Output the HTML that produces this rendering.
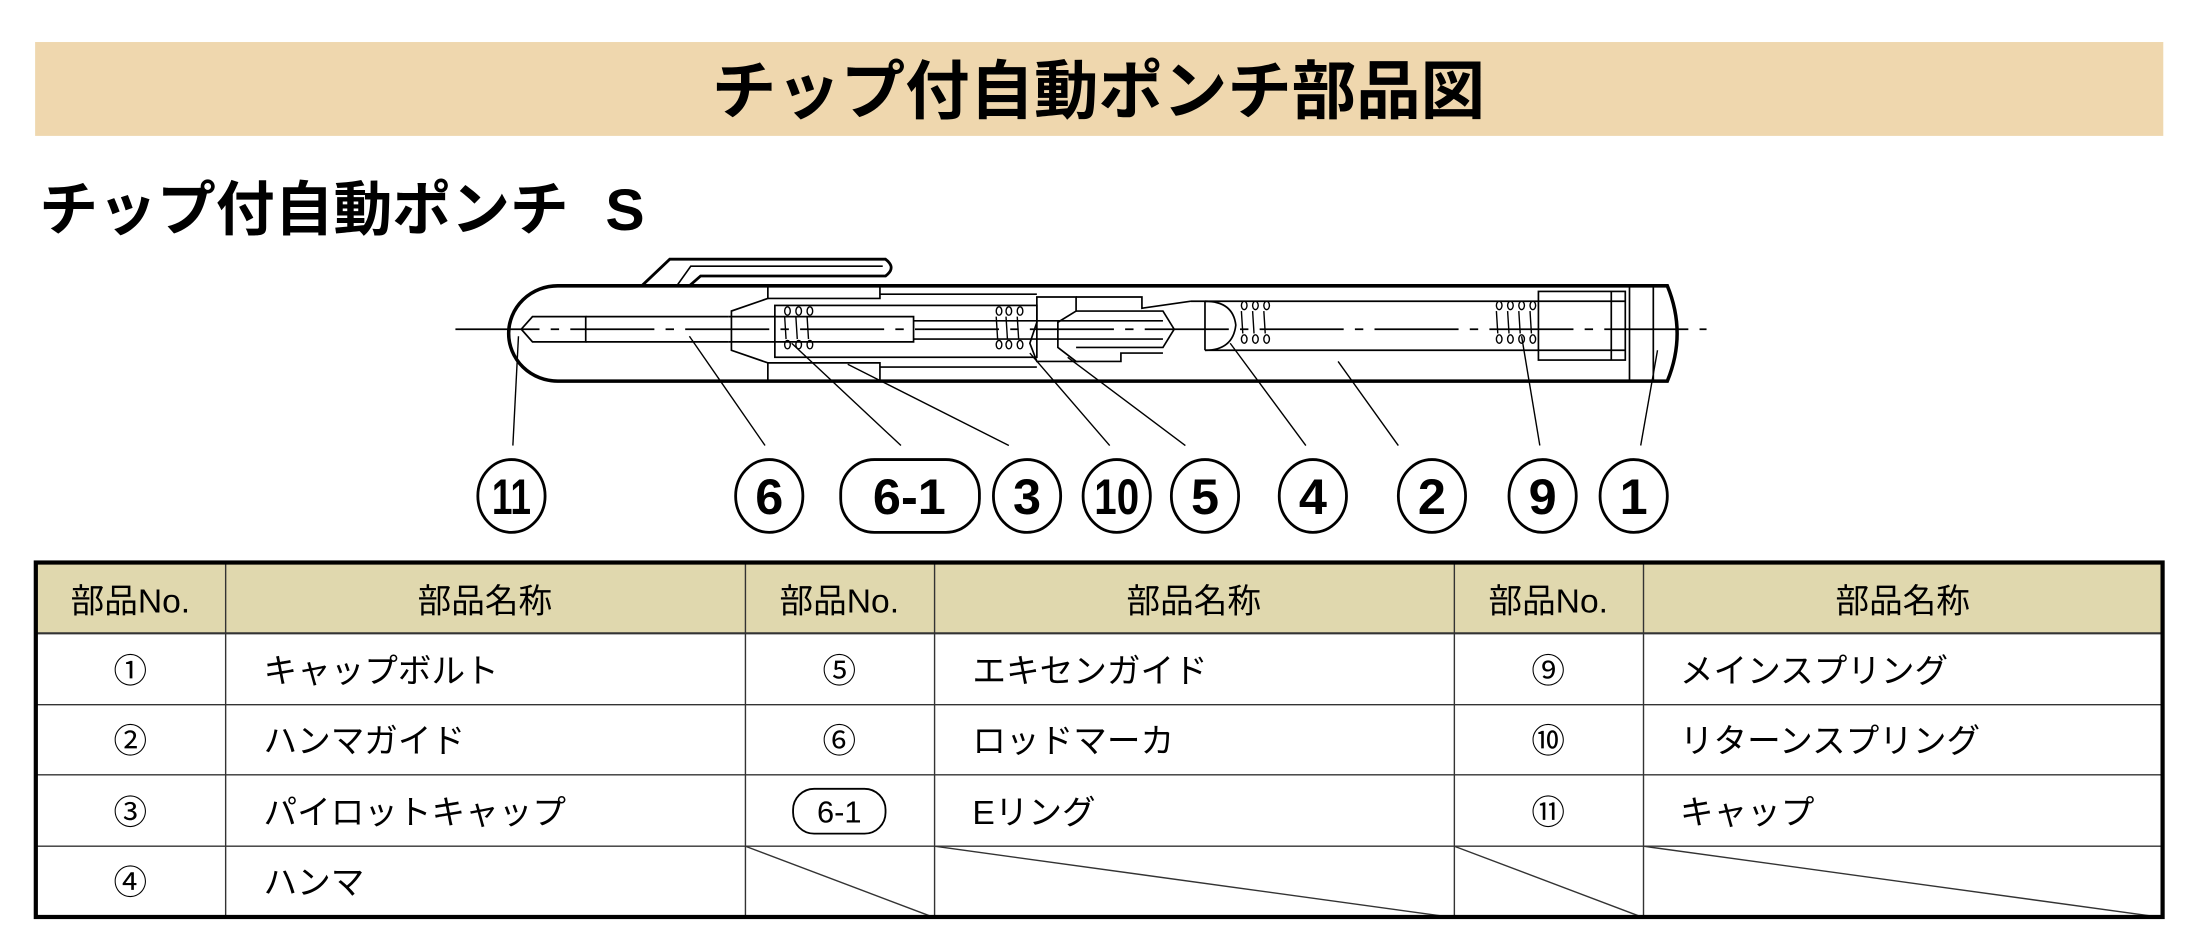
<!DOCTYPE html>
<html><head><meta charset="utf-8"><style>
html,body{margin:0;padding:0;background:#fff;}
svg{display:block;}
text{font-family:"Liberation Sans","Noto Sans CJK JP",sans-serif;}
</style></head><body>
<svg width="2197" height="945" viewBox="0 0 1568 674.5" xmlns="http://www.w3.org/2000/svg">
<defs>
<g id="sp" fill="none" stroke="#000" stroke-width="1"><ellipse cx="0" cy="0" rx="2" ry="3"/><ellipse cx="0" cy="24" rx="2" ry="3"/><line x1="-2" y1="4" x2="-1" y2="20"/></g>
</defs>
<rect x="25" y="30" width="1519" height="67" fill="#efd7ae"/>
<text x="784" y="81" font-size="46" font-weight="bold" text-anchor="middle" font-family="Noto Sans CJK JP, sans-serif">チップ付自動ポンチ部品図</text>
<text x="28" y="164" font-size="42" font-weight="bold" font-family="Noto Sans CJK JP, sans-serif">チップ付自動ポンチ</text>
<text x="432" y="164" font-size="42" font-weight="bold">S</text>

<g fill="none" stroke="#000" stroke-width="1.2">
<path d="M458 204 L478 185 L632 185 Q640 191 632 197 L500 197 L492 204" stroke-width="2" fill="#fff"/>
<path d="M483 204 L493 190 L630 190"/>
<path d="M398 204 L1190 204 Q1204 238 1190 272 L398 272 A35 34 0 0 1 398 204 Z" stroke-width="2.5" fill="#fff"/>
<line x1="1163" y1="204" x2="1163" y2="272"/>
<line x1="1180" y1="204" x2="1180" y2="272"/>
<line x1="325" y1="235" x2="1218" y2="235" stroke-dasharray="60 8 6 8"/>
<path d="M372 235 L380 226 L418 226 L418 244 L380 244 Z"/>
<path d="M418 226 L520 226 M418 244 L520 244"/>
<path d="M548 204 L548 213 L522 222 L522 250 L548 259 L548 272"/>
<path d="M548 213 L628 213 L628 204 M548 259 L628 259 L628 272"/>
<rect x="553" y="218" width="187" height="37"/>
<path d="M520 226 L652 226 L652 244 L520 244"/>
<path d="M652 229 L830 229 M652 242 L830 242"/>
<path d="M628 210 L740 210 M628 262 L740 262"/>
<path d="M740 212 L768 212 L768 222 L755 230 L755 248 L768 258 L740 258 L735 245 L740 230 Z"/>
<path d="M768 212 L815 212 L815 220 L850 215 M768 258 L800 258 L800 252 L830 252"/>
<path d="M768 222 L830 222 L838 235 L830 248 L768 248"/>
<path d="M860 215 L860 250 M860 215 Q880 215 882 232 Q880 250 860 250"/>
<path d="M850 215 L1160 215 M860 250 L1160 250"/>
<rect x="1098" y="208" width="62" height="49"/>
<line x1="1150" y1="208" x2="1150" y2="257"/>
</g>
<use href="#sp" x="562" y="222"/><use href="#sp" x="570" y="222"/><use href="#sp" x="578" y="222"/>
<use href="#sp" x="713" y="222"/><use href="#sp" x="720" y="222"/><use href="#sp" x="728" y="222"/>
<use href="#sp" x="888" y="218"/><use href="#sp" x="896" y="218"/><use href="#sp" x="904" y="218"/>
<use href="#sp" x="1070" y="218"/><use href="#sp" x="1078" y="218"/><use href="#sp" x="1086" y="218"/><use href="#sp" x="1094" y="218"/>
<g stroke="#000" stroke-width="1">
<line x1="366" y1="318" x2="370" y2="240"/>
<line x1="546" y1="318" x2="492" y2="240"/>
<line x1="643" y1="318" x2="565" y2="245"/>
<line x1="720" y1="318" x2="605" y2="260"/>
<line x1="792" y1="318" x2="735" y2="252"/>
<line x1="846" y1="318" x2="762" y2="255"/>
<line x1="932" y1="318" x2="878" y2="245"/>
<line x1="998" y1="318" x2="955" y2="258"/>
<line x1="1099" y1="318" x2="1086" y2="240"/>
<line x1="1171" y1="318" x2="1183" y2="250"/>
</g>
<g fill="#fff" stroke="#000" stroke-width="2">
<ellipse cx="365" cy="354" rx="24" ry="26"/>
<ellipse cx="549" cy="354" rx="24" ry="26"/>
<rect x="600" y="328" width="99" height="52" rx="24"/>
<ellipse cx="733" cy="354" rx="24" ry="26"/>
<ellipse cx="797" cy="354" rx="24" ry="26"/>
<ellipse cx="860" cy="354" rx="24" ry="26"/>
<ellipse cx="937" cy="354" rx="24" ry="26"/>
<ellipse cx="1022" cy="354" rx="24" ry="26"/>
<ellipse cx="1101" cy="354" rx="24" ry="26"/>
<ellipse cx="1166" cy="354" rx="24" ry="26"/>
</g>
<g font-size="36" font-weight="bold" text-anchor="middle">
<text x="365" y="367" textLength="28" lengthAdjust="spacingAndGlyphs">11</text>
<text x="549" y="367">6</text>
<text x="649" y="367">6-1</text>
<text x="733" y="367">3</text>
<text x="797" y="367" textLength="32" lengthAdjust="spacingAndGlyphs">10</text>
<text x="860" y="367">5</text>
<text x="937" y="367">4</text>
<text x="1022" y="367">2</text>
<text x="1101" y="367">9</text>
<text x="1166" y="367">1</text>
</g>

<rect x="25" y="401" width="1519" height="51" fill="#e0d8ae"/>
<g stroke="#333" stroke-width="1">
<line x1="25" y1="452" x2="1544" y2="452" stroke-width="1.5"/>
<line x1="25" y1="503" x2="1544" y2="503"/>
<line x1="25" y1="553" x2="1544" y2="553"/>
<line x1="25" y1="604" x2="1544" y2="604"/>
<line x1="161" y1="401" x2="161" y2="655"/>
<line x1="532" y1="401" x2="532" y2="655"/>
<line x1="667" y1="401" x2="667" y2="655"/>
<line x1="1038" y1="401" x2="1038" y2="655"/>
<line x1="1173" y1="401" x2="1173" y2="655"/>
<line x1="532" y1="604" x2="667" y2="655"/>
<line x1="667" y1="604" x2="1038" y2="655"/>
<line x1="1038" y1="604" x2="1173" y2="655"/>
<line x1="1173" y1="604" x2="1544" y2="655"/>
</g>
<rect x="25.5" y="401.5" width="1518" height="253" fill="none" stroke="#000" stroke-width="3"/>
<g font-size="24" font-family="Noto Sans CJK JP, sans-serif">
<g text-anchor="middle">
<text x="93" y="437">部品No.</text><text x="346" y="437">部品名称</text>
<text x="599" y="437">部品No.</text><text x="852" y="437">部品名称</text>
<text x="1105" y="437">部品No.</text><text x="1358" y="437">部品名称</text>
<text x="93" y="487">①</text><text x="93" y="537">②</text><text x="93" y="588">③</text><text x="93" y="638">④</text>
<text x="599" y="487">⑤</text><text x="599" y="537">⑥</text>
<text x="599" y="587" font-size="22">6-1</text>
<text x="1105" y="487">⑨</text><text x="1105" y="537">⑩</text><text x="1105" y="588">⑪</text>
</g>
<rect x="566" y="563" width="66" height="32" rx="15" fill="none" stroke="#000" stroke-width="1.3"/>
<text x="188" y="487">キャップボルト</text>
<text x="188" y="537">ハンマガイド</text>
<text x="188" y="588">パイロットキャップ</text>
<text x="188" y="638">ハンマ</text>
<text x="694" y="487">エキセンガイド</text>
<text x="694" y="537">ロッドマーカ</text>
<text x="694" y="588">Eリング</text>
<text x="1199" y="487">メインスプリング</text>
<text x="1199" y="537">リターンスプリング</text>
<text x="1199" y="588">キャップ</text>
</g>
</svg>
</body></html>
